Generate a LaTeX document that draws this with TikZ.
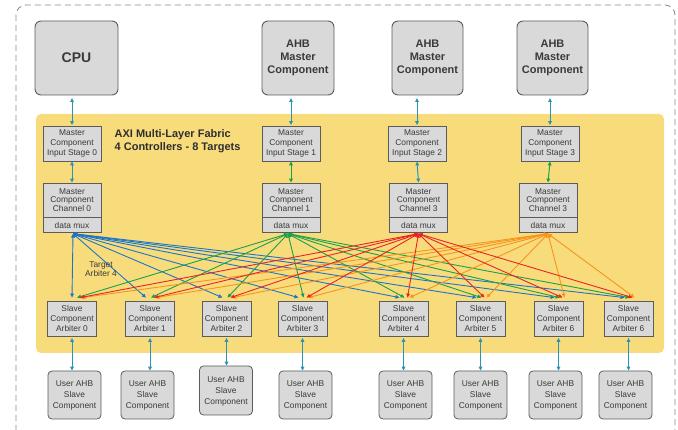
\documentclass[tikz,border=0pt]{standalone}
\usepackage{fontspec}
\setmainfont{Liberation Sans}
\usetikzlibrary{arrows.meta,calc}
\definecolor{boxgray}{HTML}{D9D9D9}
\definecolor{edgegray}{HTML}{5C5C5C}
\definecolor{fabricfill}{HTML}{F8DC7C}
\definecolor{linkteal}{HTML}{2A93B8}
\definecolor{busblue}{HTML}{1C75C8}
\definecolor{busgreen}{HTML}{1BA04B}
\definecolor{busred}{HTML}{EC2227}
\definecolor{busorange}{HTML}{F7941D}
\definecolor{txtgray}{HTML}{3A3A3A}
\definecolor{framegray}{HTML}{8A8A8A}
\begin{document}
\begin{tikzpicture}[x=1pt,y=-1pt,
  >={Triangle[length=4pt,width=3.6pt]},
  bigbox/.style={draw=edgegray,fill=boxgray,line width=0.9pt,rounded corners=6pt,
    align=center,text=txtgray,inner sep=0pt,
    font=\bfseries\fontsize{11}{13}\selectfont},
  smallbox/.style={draw=edgegray,fill=boxgray,line width=0.8pt,align=center,
    text=txtgray,inner sep=0pt,minimum width=58pt,
    font=\fontsize{8.4}{10}\selectfont},
  arbbox/.style={smallbox,minimum width=49pt,minimum height=35pt},
  userbox/.style={draw=edgegray,fill=boxgray,line width=0.8pt,rounded corners=4pt,
    align=center,text=txtgray,inner sep=0pt,minimum width=53pt,minimum height=48pt,
    font=\fontsize{8.4}{11}\selectfont},
  link/.style={<->,linkteal,line width=1pt},
  bus/.style={<->,line width=0.9pt}
]
\useasboundingbox (0,0) rectangle (678,430);

% outer frame and fabric area
\draw[framegray,line width=0.8pt,dash pattern=on 6pt off 4pt,rounded corners=10pt]
  (16,5) rectangle (675,445);
\fill[fabricfill,rounded corners=5pt] (36,114) rectangle (664,353);

% masters
\node[bigbox,minimum width=83pt,minimum height=74pt,font=\bfseries\fontsize{14}{16}\selectfont] (cpu) at (76.5,58) {CPU};
\node[bigbox,minimum width=72pt,minimum height=74pt] (ahb1) at (298,58) {AHB\\Master\\Component};
\node[bigbox,minimum width=71pt,minimum height=74pt] (ahb2) at (427.5,58) {AHB\\Master\\Component};
\node[bigbox,minimum width=71pt,minimum height=74pt] (ahb3) at (552.5,58) {AHB\\Master\\Component};

% fabric title
\node[anchor=west,align=left,text=txtgray!80!black,inner sep=0pt,font=\bfseries\fontsize{11}{13.5}\selectfont]
  (title) at (114.5,141) {AXI Multi-Layer Fabric\\4 Controllers - 8 Targets};

% input stages
\foreach \i/\x in {0/72,1/291,2/417,3/550}
  \node[smallbox,minimum height=35pt] (is\i) at (\x,143.5) {Master\\Component\\Input Stage \i};

% channels with data mux
\foreach \i/\x/\n in {0/72/0,1/291/1,2/418.5/3,3/548/3}{
  \node[smallbox,minimum height=34pt,font=\fontsize{8.4}{8.6}\selectfont] (ch\i) at (\x,200) {Master\\Component\\Channel \n};
  \node[smallbox,minimum height=15pt,anchor=north] (mux\i) at (ch\i.south) {data mux};
}

% slave arbiters
\foreach \i/\x/\n in {0/72/0,1/150/1,2/226.5/2,3/302.5/3,4/403.5/4,5/480.5/5,6/558.5/6,7/628.5/6}
  \node[arbbox] (arb\i) at (\x,318.5) {Slave\\Component\\Arbiter \n};

% user slaves
\foreach \i/\x in {0/74.5,1/147.5,3/305.5,4/405.5,5/480.5,6/555.5,7/625.5}
  \node[userbox] (usr\i) at (\x,395) {User AHB\\Slave\\Component};
\node[userbox,minimum height=49pt,text depth=-6pt] (usr2) at (226,390.5) {User AHB\\Slave\\Component};

% master side links
\foreach \m/\i in {cpu/0,ahb1/1,ahb2/2,ahb3/3}
  \draw[link,shorten <=2.5pt,shorten >=0.5pt] (is\i.north |- \m.south) -- (is\i.north);
\draw[link] (is0.south) -- (ch0.north);
\draw[link,busgreen] (is1.south) -- (ch1.north);
\draw[link] (is2.south) -- (ch2.north);
\draw[link,busgreen] (is3.south) -- (ch3.north);

% crossbar: every controller to every target
\foreach \m/\dx/\col/\off in {0/1/busblue/-4,1/-3/busgreen/1,3/0/busorange/6,2/0/busred/4}
  \foreach \s in {0,...,7}{
    \pgfmathsetmacro\o{\off+(\s==0?4:0)}
    \draw[bus,\col] ($(mux\m.south)+(\dx,0.5)$) -- ($(arb\s.north)+(\o,-3)$);
  }

\node[align=center,text=txtgray,inner sep=0pt,font=\fontsize{8.4}{9.5}\selectfont]
  (tlabel) at (101,269) {Target\\Arbiter 4};

% slave side links
\foreach \i in {0,...,7}
  \draw[link,shorten <=1.5pt] (arb\i.south) -- (arb\i.south |- usr\i.north);
\end{tikzpicture}
\end{document}
